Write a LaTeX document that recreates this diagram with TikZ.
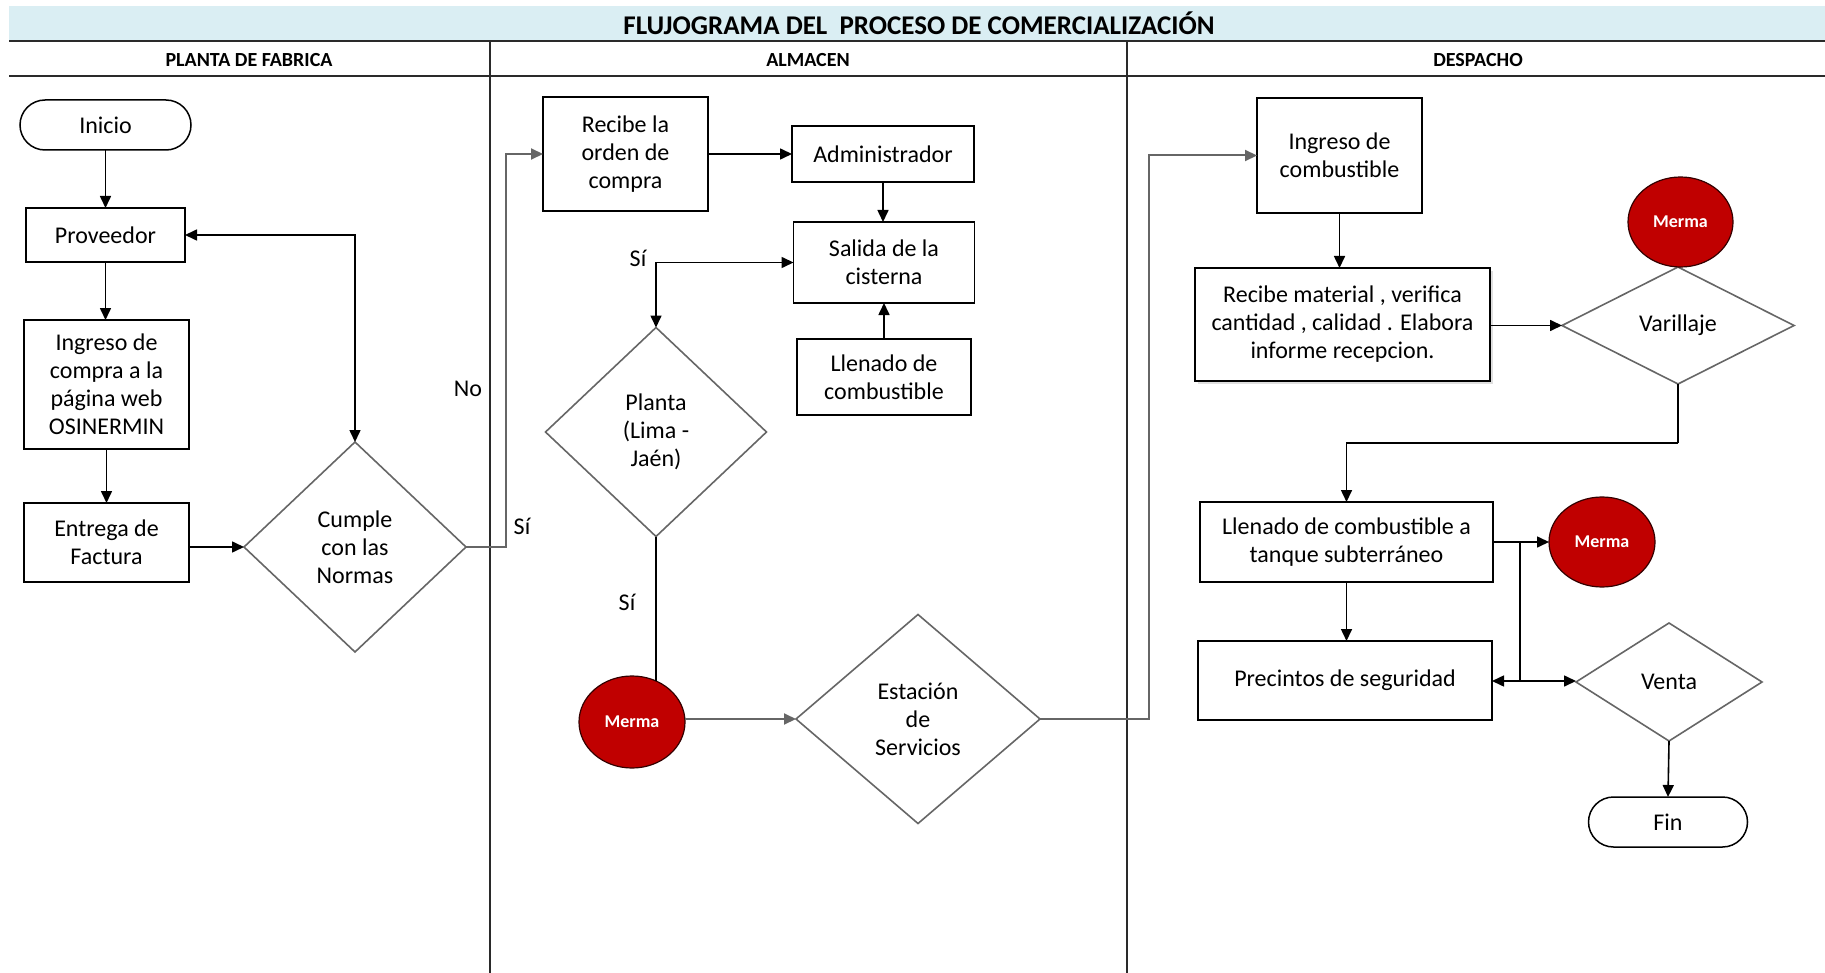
\documentclass[tikz,border=0pt]{standalone}
\usepackage{fontspec}
\setmainfont{Carlito}
\usetikzlibrary{arrows.meta,shapes.geometric,shadows}
\definecolor{bandblue}{HTML}{DAEEF3}
\definecolor{mermared}{HTML}{C00000}
\definecolor{dgray}{HTML}{666666}
\definecolor{lined}{HTML}{2A2A2A}
\begin{document}
\begin{tikzpicture}[x={(0.5pt,0)}, y={(0,-0.5pt)},
  font=\fontsize{12}{14}\selectfont,
  tip/.style={},
  box/.style={draw=black, line width=0.75pt, inner sep=0pt, outer sep=0pt, align=center, fill=white},
  term/.style={box, rounded corners=12.5pt},
  dec/.style={diamond, draw=dgray, line width=0.8pt, inner sep=0pt, outer sep=0pt, align=center, fill=white},
  merma/.style={ellipse, draw=black!80!red, line width=0.6pt, fill=mermared, inner sep=0pt, outer sep=0pt,
     text=white, font=\fontsize{9}{11}\selectfont\bfseries},
  arr/.style={draw=black, line width=0.8pt, -{Triangle[length=6pt,width=5.5pt]}},
  arrb/.style={draw=black, line width=0.8pt, {Triangle[length=6pt,width=5.5pt]}-{Triangle[length=6pt,width=5.5pt]}},
  garr/.style={draw=dgray, line width=1pt, -{Triangle[length=6pt,width=5.5pt]}},
  gline/.style={draw=dgray, line width=1pt},
  bline/.style={draw=black, line width=0.8pt},
  hdr/.style={draw=lined, line width=1pt},
  lbl/.style={inner sep=0pt},
  coltitle/.style={font=\fontsize{10}{12}\selectfont\bfseries},
]
\useasboundingbox (0,0) rectangle (1825,973);

% title band and lanes
\fill[bandblue] (9,6) rectangle (1825,41);
\node[font=\fontsize{13.5}{16}\selectfont\bfseries] (title) at (919,23) {FLUJOGRAMA DEL\ \ PROCESO DE COMERCIALIZACIÓN};
\draw[hdr] (9,41) -- (1825,41);
\draw[hdr] (9,76) -- (1825,76);
\draw[hdr] (490,41) -- (490,973);
\draw[hdr] (1127,41) -- (1127,973);
\node[coltitle] (h1) at (249,60) {PLANTA DE FABRICA};
\node[coltitle] (h2) at (808,60) {ALMACEN};
\node[coltitle] (h3) at (1478,60) {DESPACHO};

% column 1
\node[term, minimum width=85.5pt, minimum height=25pt] (inicio) at (105.5,125) {Inicio};
\node[box, minimum width=79.5pt, minimum height=27pt] (prov) at (105.5,235) {Proveedor};
\node[box, minimum width=82.5pt, minimum height=64.5pt] (ingweb) at (106.5,384.5) {Ingreso de\\compra a la\\página web\\OSINERMIN};
\node[box, minimum width=82.5pt, minimum height=39.5pt] (entrega) at (106.5,542.5) {Entrega de\\Factura};
\node[dec, minimum width=111pt, minimum height=105pt] (cumple) at (355,547) {Cumple\\con las\\Normas};

% column 2
\node[box, minimum width=82.5pt, minimum height=57pt] (recibe) at (625.5,154) {Recibe la\\orden de\\compra};
\node[box, minimum width=91pt, minimum height=28pt] (admin) at (883,154) {Administrador};
\node[box, minimum width=90.5pt, minimum height=40.5pt] (salida) at (884,262.5) {Salida de la\\cisterna};
\node[box, minimum width=87pt, minimum height=38pt] (llen1) at (884,377) {Llenado de\\combustible};
\node[dec, minimum width=110.5pt, minimum height=104.5pt] (planta) at (656,432) {Planta\\(Lima -\\Jaén)};
\node[merma, minimum width=53pt, minimum height=46pt] (merma1) at (632,722) {Merma};
\node[dec, minimum width=122pt, minimum height=104.5pt] (estacion) at (918,719) {Estación\\de\\Servicios};

% column 3
\node[box, minimum width=82.5pt, minimum height=57.5pt] (ingcomb) at (1339.5,155.5) {Ingreso de\\combustible};
\node[box, minimum width=147.5pt, minimum height=56.5pt, drop shadow={opacity=0.25, shadow xshift=1.5pt, shadow yshift=-1.5pt}] (recmat) at (1342.5,324.5) {Recibe material , verifica\\cantidad , calidad . Elabora\\informe recepcion.};
\node[dec, minimum width=116pt, minimum height=58.5pt] (varillaje) at (1678,325.5) {Varillaje};
\node[merma, minimum width=52.5pt, minimum height=45pt] (merma2) at (1680.5,222) {Merma};
\node[box, minimum width=146.5pt, minimum height=40pt] (llenT) at (1346.5,542) {Llenado de combustible a\\tanque subterráneo};
\node[merma, minimum width=53pt, minimum height=45pt] (merma3) at (1602,542) {Merma};
\node[box, minimum width=147pt, minimum height=39.5pt] (precintos) at (1345,680.5) {Precintos de seguridad};
\node[dec, minimum width=93pt, minimum height=59pt] (venta) at (1669,682) {Venta};
\node[term, minimum width=79.5pt, minimum height=25pt] (fin) at (1668,822) {Fin};

% labels
\node[lbl] (lno) at (468,389) {No};
\node[lbl] (lsi1) at (522,526) {Sí};
\node[lbl] (lsi2) at (638,258) {Sí};
\node[lbl] (lsi3) at (627,602) {Sí};

% helper coordinates
\coordinate (c1) at (506,547);
\coordinate (c2) at (1149,719);
\coordinate (c3) at (1678,443);
\coordinate (bj) at (1520,542);
\coordinate (bk) at (1520,681);

% connectors column 1
\draw[arr] (inicio.south) -- (prov.north);
\draw[arr] (prov.south) -- (prov.south |- ingweb.north);
\draw[arr] (ingweb.south) -- (entrega.north);
\draw[arr] (entrega.east |- cumple.west) -- (cumple.west);
\draw[arrb] (cumple.north) |- (prov.east);
\draw[garr] (cumple.east) -- (c1) |- (recibe.west);

% connectors column 2
\draw[arr] (recibe.east) -- (admin.west);
\draw[arr] (admin.south) -- (admin.south |- salida.north);
\draw[arr] (llen1.north) -- (salida.south);
\draw[arrb] (planta.north) |- (salida.west);
\draw[bline] (planta.south) -- (planta.south |- merma1.60);
\draw[garr] (merma1.east |- estacion.west) -- (estacion.west);
\draw[garr] (estacion.east) -- (c2) |- (ingcomb.west);

% connectors column 3
\draw[arr] (ingcomb.south) -- (ingcomb.south |- recmat.north);
\draw[arr] (recmat.east |- varillaje.west) -- (varillaje.west);
\draw[bline] (varillaje.south) -- (c3);
\draw[arr] (c3) -| (llenT.north);
\draw[arr] (llenT.east) -- (merma3.west);
\draw[arr] (llenT.south) -- (llenT.south |- precintos.north);
\draw[bline] (bj) -- (bk);
\draw[arr] (bk) -- (precintos.east |- bk);
\draw[arr] (bk) -- (venta.west |- bk);
\draw[arr] (venta.south) -- (fin.north);
\end{tikzpicture}
\end{document}
